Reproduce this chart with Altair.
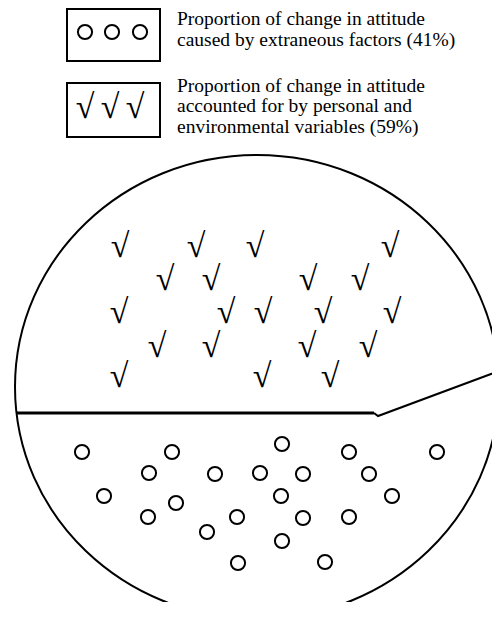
import altair as alt
import pandas as pd

# ---- data (pixel coordinates of the picture) ----
check_x = [120, 196, 255, 390, 165, 211, 308, 360, 119, 226, 263, 323, 392, 157, 211, 307, 368, 119, 262, 330]
check_y = [247, 247, 247, 247, 280, 280, 280, 280, 313, 313, 313, 313, 313, 347, 347, 347, 347, 377, 377, 377]

circle_x = [82, 172, 282, 349, 437, 149, 215, 260, 303, 369, 104, 281, 392, 176, 148, 237, 303, 349, 207, 282, 238, 325]
circle_y = [452, 452, 444, 452, 452, 473, 474, 473, 474, 474, 496, 496, 496, 503, 517, 517, 518, 517, 532, 541, 563, 562]

legend_circle_x = [85, 112, 140]
legend_circle_y = [32, 32, 32]
legend_check_x = [85, 110, 135]
legend_check_y = [108, 108, 108]

box_x1 = [67, 67]
box_x2 = [160, 160]
box_y1 = [9, 83]
box_y2 = [61, 137]

legend_lines = [
    "Proportion of change in attitude",
    "caused by extraneous factors (41%)",
    "Proportion of change in attitude",
    "accounted for by personal and",
    "environmental variables (59%)",
]
legend_line_x = [177, 177, 177, 177, 177]
legend_line_y = [25, 46, 92, 112, 133]

ellipse_cx = [257]
ellipse_cy = [387]

divider_flat_x = [16, 374]
divider_flat_y = [413, 413]
divider_slant_x = [374, 378, 499]
divider_slant_y = [413, 416, 371]

# ---- canvas ----
W, H = 484, 594
OFF = 8
xs = alt.Scale(domain=[OFF, OFF + W], nice=False, zero=False)
ys = alt.Scale(domain=[OFF, OFF + H], reverse=True, nice=False, zero=False)

def X(f="x"):
    return alt.X(f"{f}:Q", scale=xs, axis=None)

def Y(f="y"):
    return alt.Y(f"{f}:Q", scale=ys, axis=None)

RX, RY = 242, 232
ellipse_path = f"M-1,0A1,{RY/RX:.4f},0,1,1,1,0A1,{RY/RX:.4f},0,1,1,-1,0Z"

ellipse = alt.Chart(pd.DataFrame({"x": ellipse_cx, "y": ellipse_cy})).mark_point(
    shape=ellipse_path, filled=False, stroke="black", strokeWidth=2, opacity=1,
    size=(2 * RX) ** 2,
).encode(x=X(), y=Y())

flat = alt.Chart(pd.DataFrame({"x": divider_flat_x, "y": divider_flat_y, "o": [0, 1]})).mark_line(
    color="black", strokeWidth=3
).encode(x=X(), y=Y(), order="o:O")

slant = alt.Chart(pd.DataFrame({"x": divider_slant_x, "y": divider_slant_y, "o": [0, 1, 2]})).mark_line(
    color="black", strokeWidth=2, strokeJoin="miter"
).encode(x=X(), y=Y(), order="o:O")

checks_df = pd.DataFrame({"x": check_x + legend_check_x, "y": check_y + legend_check_y})
checks = alt.Chart(checks_df).mark_text(
    text="√", font="Liberation Serif", fontSize=34, fontWeight="bold",
    align="center", baseline="middle", color="black",
).encode(x=X(), y=Y())

circles_df = pd.DataFrame({"x": circle_x + legend_circle_x, "y": circle_y + legend_circle_y})
circles = alt.Chart(circles_df).mark_point(
    shape="circle", filled=False, stroke="black", strokeWidth=2, opacity=1, size=200,
).encode(x=X(), y=Y())

boxes = alt.Chart(pd.DataFrame({"x": box_x1, "x2": box_x2, "y": box_y1, "y2": box_y2})).mark_rect(
    fill=None, stroke="black", strokeWidth=2
).encode(x=X(), x2="x2:Q", y=Y(), y2="y2:Q")

texts = alt.Chart(pd.DataFrame({"x": legend_line_x, "y": legend_line_y, "t": legend_lines})).mark_text(
    align="left", baseline="alphabetic", font="Liberation Serif", fontSize=19.5, color="black",
).encode(x=X(), y=Y(), text="t:N")

chart = alt.layer(ellipse, flat, slant, checks, circles, boxes, texts).properties(
    width=W, height=H, padding=0, autosize=alt.AutoSizeParams(type="none"),
    background="white",
).configure_view(stroke=None)

chart.save("out.html", embed_options={"renderer": "svg", "actions": False})
